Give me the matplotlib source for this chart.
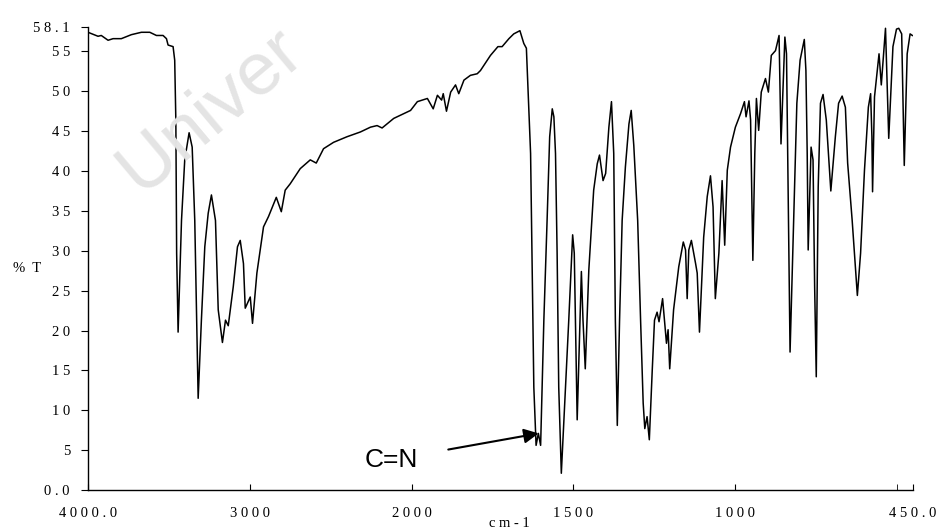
import matplotlib
matplotlib.use('Agg')
import matplotlib.pyplot as plt
import numpy as np

# IR spectrum, wavenumber (cm-1) and transmittance (%T)
wavenumber = [4000, 3938, 3918, 3876, 3845, 3794, 3732, 3670, 3618, 3577, 3536, 3515, 3505, 3474,
              3464, 3457, 3452, 3443, 3422, 3402, 3375, 3356, 3340, 3319, 3299, 3278, 3257, 3237,
              3212, 3195, 3169, 3150, 3133, 3102, 3076, 3059, 3039, 3028, 2997, 2983, 2956, 2915,
              2884, 2836, 2805, 2781, 2750, 2708, 2688, 2626, 2589, 2544, 2482, 2399, 2316, 2254,
              2213, 2182, 2110, 2048, 2006, 1982, 1951, 1933, 1920, 1907, 1902, 1892, 1879, 1864,
              1854, 1838, 1818, 1797, 1787, 1756, 1733, 1720, 1699, 1684, 1665, 1653, 1645, 1632,
              1622, 1615, 1608, 1601, 1591, 1581, 1573, 1565, 1560, 1555, 1550, 1545, 1537, 1524,
              1514, 1502, 1497, 1488, 1475, 1470, 1463, 1452, 1437, 1426, 1419, 1408, 1400, 1390,
              1382, 1375, 1370, 1364, 1357, 1349, 1339, 1328, 1321, 1313, 1301, 1292, 1284, 1279,
              1272, 1265, 1256, 1249, 1241, 1235, 1224, 1212, 1207, 1202, 1190, 1174, 1160, 1153,
              1148, 1143, 1135, 1122, 1117, 1110, 1097, 1086, 1076, 1068, 1061, 1050, 1040, 1032,
              1024, 1014, 999, 983, 971, 966, 957, 952, 945, 939, 934, 927, 919, 906, 897, 888,
              875, 864, 858, 846, 841, 835, 830, 819, 809, 799, 786, 781, 777, 774, 765, 759,
              754, 749, 743, 736, 728, 718, 704, 690, 680, 669, 659, 652, 638, 622, 612, 600,
              588, 581, 577, 575, 569, 555, 548, 535, 525, 512, 501, 494, 485, 477, 468, 459, 452]
transmittance = [57.4, 56.9, 57.0, 56.4, 56.6, 56.6, 57.1, 57.4, 57.4, 57.0, 57.0, 56.6, 55.8, 55.6,
                 53.9, 46.4, 29.7, 19.8, 33.8, 41.4, 44.8, 43.0, 33.8, 11.5, 21.3, 30.5, 34.7, 37.0,
                 33.8, 22.6, 18.5, 21.3, 20.6, 25.5, 30.5, 31.3, 28.4, 22.8, 24.2, 20.9, 27.2, 33.0,
                 34.3, 36.7, 34.9, 37.6, 38.4, 39.7, 40.3, 41.4, 41.0, 42.8, 43.6, 44.3, 44.9, 45.5,
                 45.7, 45.4, 46.6, 47.2, 47.6, 48.7, 49.1, 47.8, 49.5, 48.9, 49.7, 47.5, 49.9, 50.8,
                 49.7, 51.4, 52.0, 52.2, 52.6, 54.5, 55.6, 55.6, 56.6, 57.2, 57.6, 56.0, 55.4, 42.2,
                 12.9, 5.6, 7.1, 5.6, 21.3, 33.8, 44.3, 47.8, 46.8, 42.2, 29.7, 12.9, 2.1, 12.9,
                 21.3, 32.0, 29.7, 8.8, 27.4, 21.3, 15.2, 27.6, 37.6, 40.9, 42.0, 38.8, 39.7, 45.5,
                 48.7, 42.2, 21.3, 8.1, 21.3, 33.8, 40.5, 45.9, 47.6, 43.2, 33.8, 21.3, 10.9, 7.7,
                 9.2, 6.3, 15.0, 21.3, 22.3, 21.1, 24.0, 18.4, 20.1, 15.2, 22.6, 28.0, 31.1, 30.1,
                 24.0, 30.1, 31.3, 28.4, 27.2, 19.8, 31.7, 36.8, 39.4, 35.5, 24.0, 29.7, 38.8, 30.7,
                 40.1, 43.0, 45.5, 47.2, 48.7, 46.8, 48.8, 46.4, 28.8, 42.2, 49.1, 45.1, 49.9, 51.6,
                 49.9, 54.5, 55.1, 57.0, 43.4, 56.8, 54.7, 33.8, 17.3, 33.8, 48.5, 53.9, 56.5, 52.6,
                 42.2, 30.1, 43.0, 41.4, 25.5, 14.2, 38.0, 48.5, 49.6, 46.4, 37.5, 44.3, 48.5, 49.4,
                 48.0, 41.0, 33.8, 24.4, 29.7, 40.1, 48.0, 49.7, 44.3, 37.4, 49.3, 54.7, 50.8, 57.9,
                 44.1, 55.6, 57.8, 57.9, 57.2, 40.7, 54.7, 57.2, 57.0]

xticks = [4000, 3000, 2000, 1500, 1000, 450]
xtick_labels = ['4 0 0 0 . 0', '3 0 0 0', '2 0 0 0', '1 5 0 0', '1 0 0 0', '4 5 0 . 0']
yticks = [0, 5, 10, 15, 20, 25, 30, 35, 40, 45, 50, 55, 58.1]
ytick_labels = ['0 . 0', '5', '1 0', '1 5', '2 0', '2 5', '3 0', '3 5', '4 0', '4 5', '5 0', '5 5', '5 8 . 1']


# scale is doubled below 2000 cm-1, as on the instrument printout
def fwd(w):
    w = np.asarray(w, dtype=float)
    return np.where(w <= 2000, 2 * w, w + 2000)


def inv(u):
    u = np.asarray(u, dtype=float)
    return np.where(u <= 4000, u / 2, u - 2000)


serif = 'Liberation Serif'

fig = plt.figure(figsize=(9.4, 5.3), dpi=100)
ax = fig.add_axes([88 / 940, 1 - 490 / 530, 825 / 940, 463.3 / 530])

# faint watermark behind the plot
fig.text(0.149, 0.632, 'Univer', rotation=40, rotation_mode='anchor',
         ha='left', va='baseline', fontsize=54, color='#e4e4e4',
         family='Liberation Sans', zorder=0)

ax.plot(wavenumber, transmittance, color='black', lw=1.1)
ax.set_xscale('function', functions=(fwd, inv))
ax.set_xlim(4000, 450)
ax.set_ylim(0, 58.1)
ax.patch.set_alpha(0)

ax.set_xticks(xticks)
ax.set_xticklabels(xtick_labels, family=serif, fontsize=10.5)
ax.set_xticks([500], minor=True)
ax.set_yticks(yticks)
ax.set_yticklabels(ytick_labels, family=serif, fontsize=10.5)
ax.tick_params(axis='x', which='both', direction='in', length=4, pad=12)
ax.tick_params(axis='y', direction='out', length=5, pad=8)

for s in ['top', 'right']:
    ax.spines[s].set_visible(False)
for s in ['left', 'bottom']:
    ax.spines[s].set_linewidth(1.0)

ax.set_ylabel('%  T', rotation=0, family=serif, fontsize=10.5, va='center', ha='center')
ax.yaxis.set_label_coords(-0.074, 0.479)
ax.set_xlabel('c m - 1', family=serif, fontsize=10.5, va='top')
ax.xaxis.set_label_coords(0.511, -0.058)

ax.annotate('C=N', xy=(1607, 7.1), xytext=(2124, 3.8), ha='center', va='center',
            fontsize=19, family='Liberation Sans',
            arrowprops=dict(arrowstyle='-|>', color='black', lw=1.5,
                            mutation_scale=22, shrinkA=20, shrinkB=0))

fig.savefig('out.png', dpi=100)
